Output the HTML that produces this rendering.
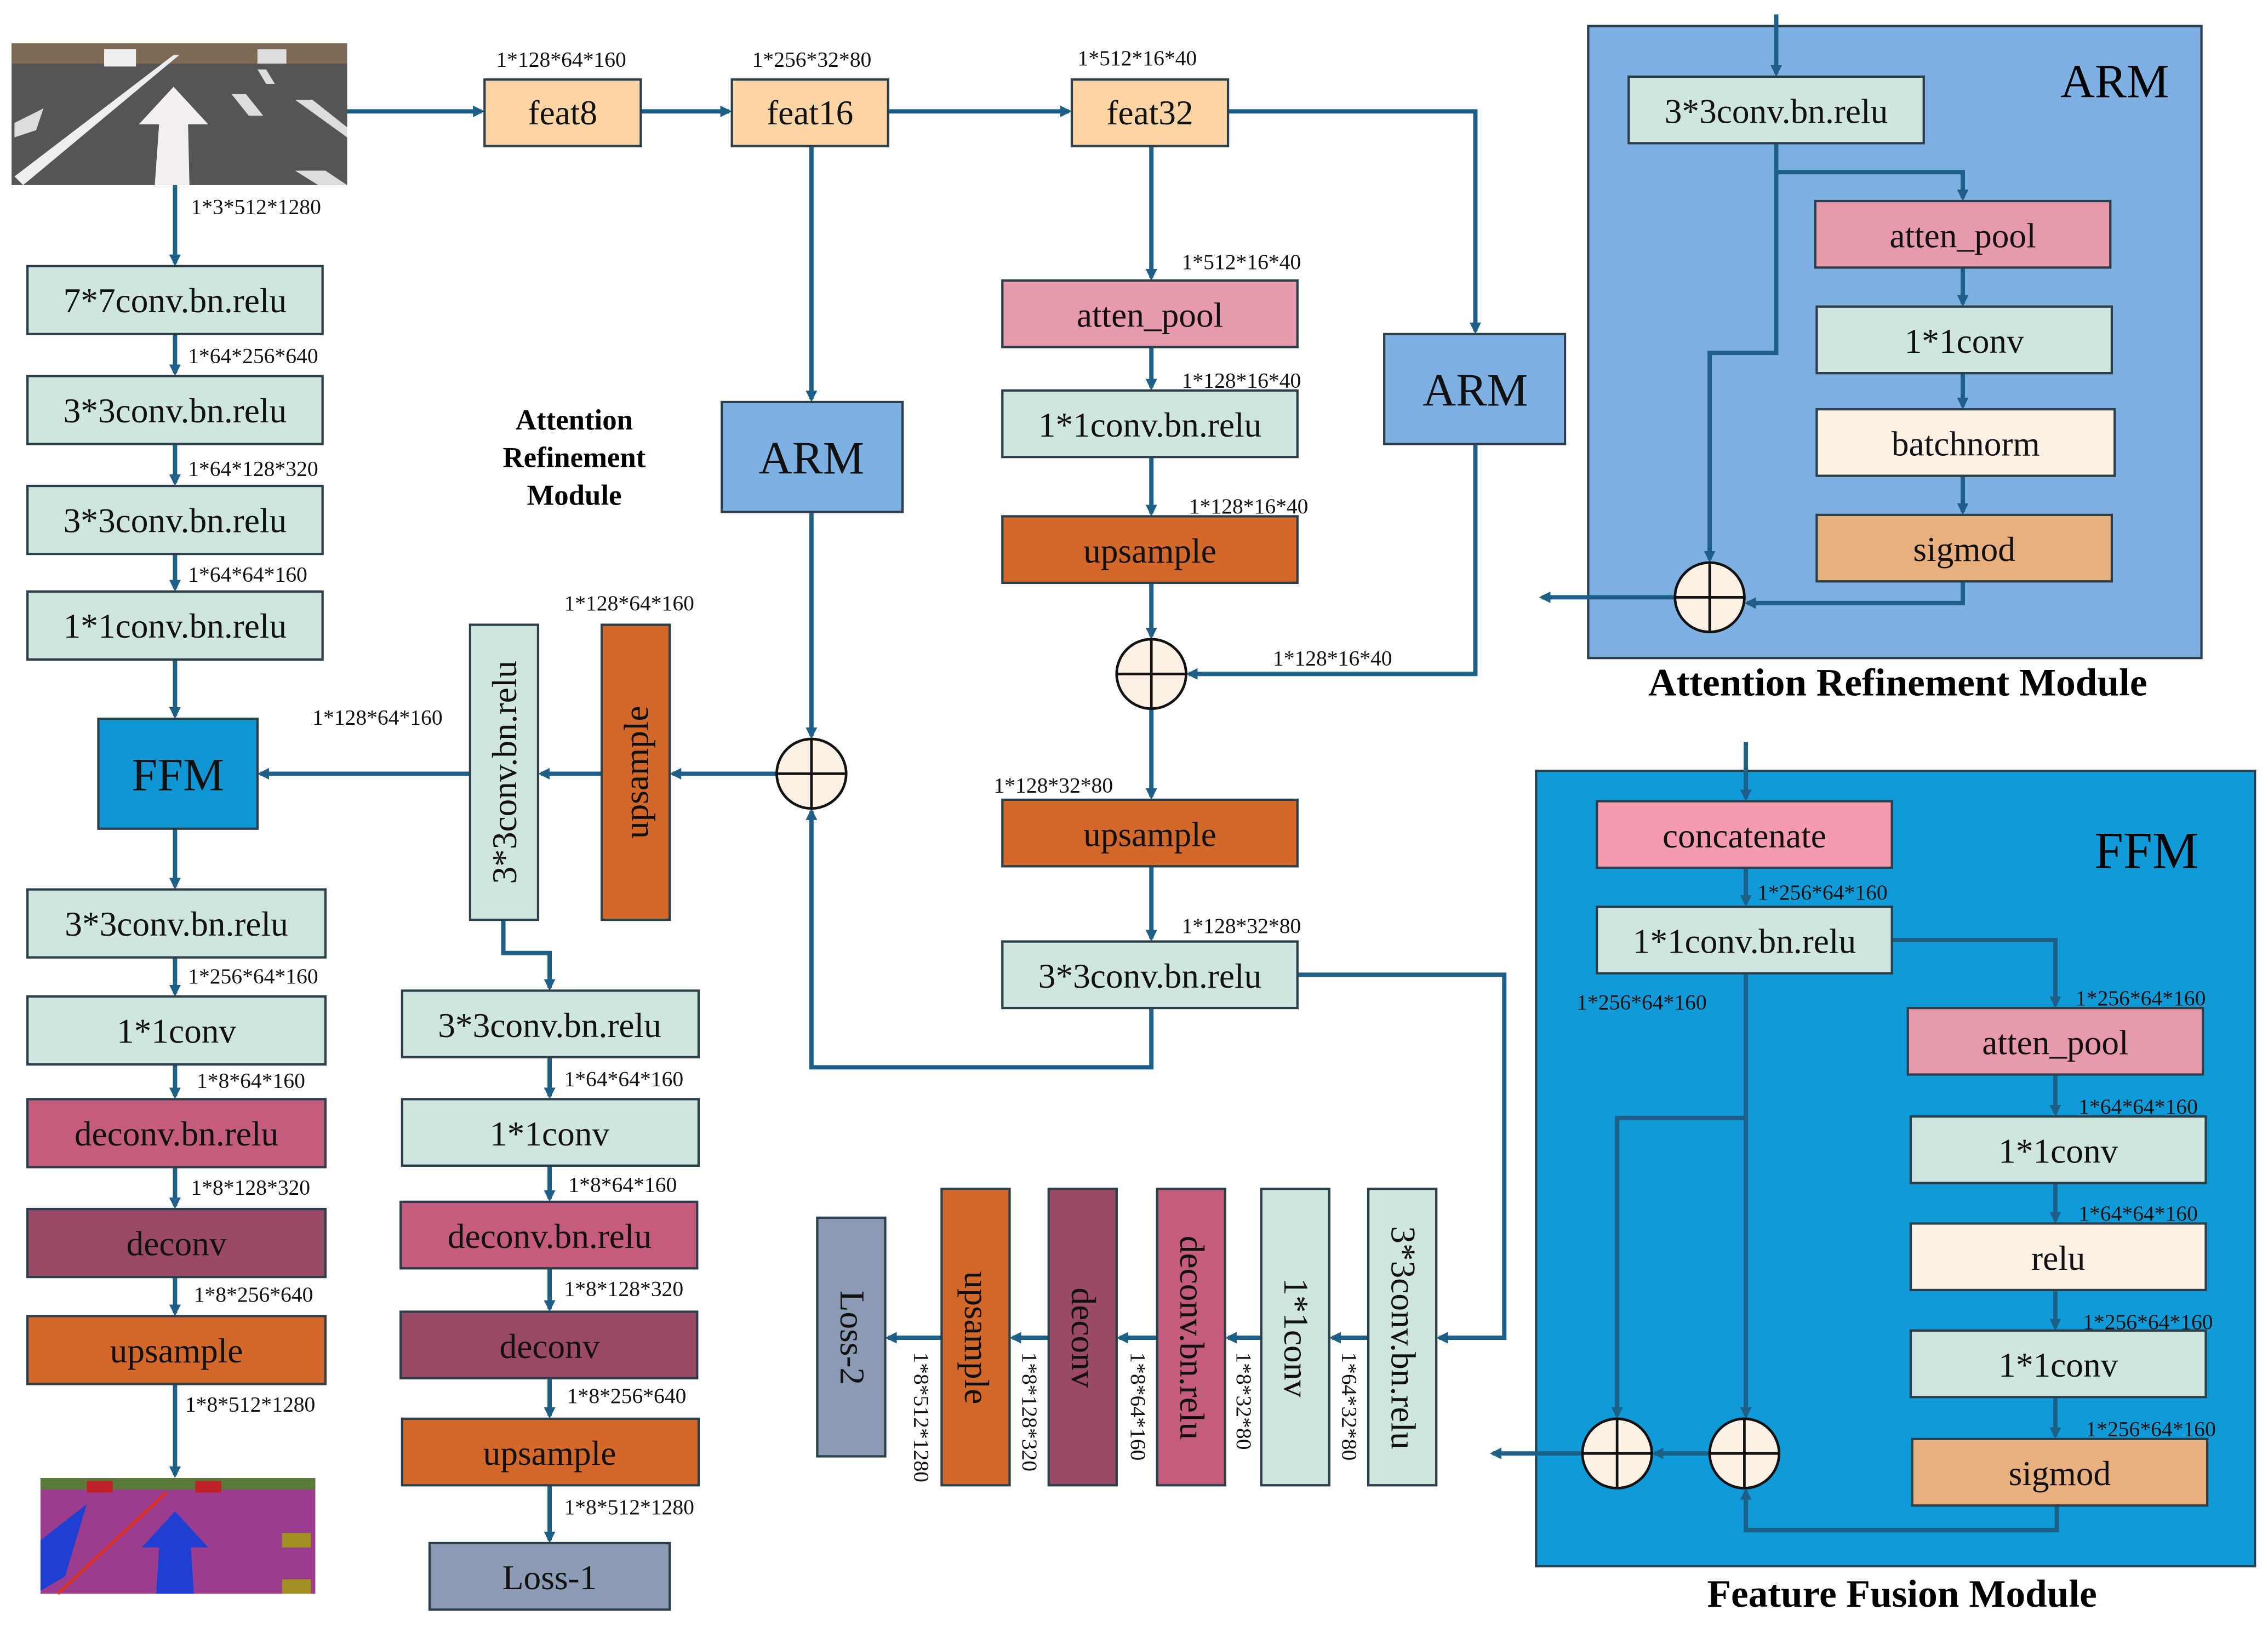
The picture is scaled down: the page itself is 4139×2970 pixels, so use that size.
<!DOCTYPE html>
<html><head><meta charset="utf-8"><style>
html,body{margin:0;padding:0;background:#fff;}
svg{display:block;font-family:"Liberation Serif","DejaVu Serif",serif;}
svg text{font-family:"Liberation Serif","DejaVu Serif",serif;}
.b{stroke:#2b3e4a;stroke-width:1.6;}
.t{font-size:24px;text-anchor:middle;dominant-baseline:central;fill:#111;}
.l{font-size:15px;fill:#111;}
.w{stroke:#1d5f86;stroke-width:3;fill:none;}
</style></head><body>
<svg width="4139" height="2970" viewBox="0 0 1568 1125" preserveAspectRatio="none" xmlns="http://www.w3.org/2000/svg" font-family="Liberation Serif, DejaVu Serif, serif">
<defs>
<marker id="a" markerWidth="8" markerHeight="8" refX="6" refY="4" orient="auto" markerUnits="userSpaceOnUse"><path d="M0,0 L8,4 L0,8 Z" fill="#1d5f86"/></marker>
<g id="c"><circle r="24" fill="#fdf0e4" stroke="#111" stroke-width="1.8"/><path d="M-24,0H24M0,-24V24" stroke="#111" stroke-width="1.8"/></g>
</defs>

<!-- road image -->
<rect x="8" y="30" width="232" height="98" fill="#555"/>
<rect x="8" y="30" width="232" height="14" fill="#7d6a55"/>
<path d="M10,122 L120,38 L124,38 L16,128Z" fill="#eee"/>
<path d="M107,128 L110,86 L96,86 L120,60 L144,86 L130,86 L131,128Z" fill="#f5f0f0"/>
<path d="M160,65 L170,65 L182,80 L172,80Z M178,48 L184,48 L190,58 L184,58Z M204,69 L216,69 L240,88 L240,95Z M204,118 L225,118 L240,128 L220,128Z M10,85 L30,75 L25,90 L10,95Z" fill="#ddd"/>
<rect x="72" y="34" width="22" height="12" fill="#eee"/><rect x="178" y="34" width="20" height="10" fill="#ddd"/>

<!-- output image -->
<rect x="28" y="1022" width="190" height="80" fill="#9b3d8f"/>
<rect x="28" y="1022" width="190" height="8" fill="#5a7a3a"/>
<rect x="60" y="1024" width="18" height="8" fill="#c0202a"/><rect x="135" y="1024" width="18" height="8" fill="#c0202a"/>
<path d="M28,1065 L60,1040 L45,1090 L28,1100Z" fill="#1f3fd0"/>
<path d="M40,1102 L115,1032" stroke="#e03020" stroke-width="2"/>
<path d="M108,1102 L110,1070 L98,1070 L121,1045 L144,1070 L132,1070 L134,1102Z" fill="#1f3fd0"/>
<rect x="195" y="1060" width="20" height="10" fill="#a09020"/><rect x="195" y="1092" width="20" height="10" fill="#a09020"/>

<!-- ARM panel -->
<rect x="1098" y="18" width="424" height="437" fill="#7fb0e2" class="b"/>
<text x="1462" y="56" style="font-size:33px;text-anchor:middle;dominant-baseline:central">ARM</text>
<text x="1312" y="472" style="font-size:27px;font-weight:bold;text-anchor:middle;dominant-baseline:central">Attention Refinement Module</text>
<!-- FFM panel -->
<rect x="1062" y="533" width="497" height="550" fill="#0f9bd7" class="b"/>
<text x="1484" y="588" style="font-size:36px;text-anchor:middle;dominant-baseline:central">FFM</text>
<text x="1315" y="1102" style="font-size:27px;font-weight:bold;text-anchor:middle;dominant-baseline:central">Feature Fusion Module</text>

<!-- wires -->
<g class="w">
<path d="M240,77H333" marker-end="url(#a)"/>
<path d="M443,77H504" marker-end="url(#a)"/>
<path d="M614,77H739" marker-end="url(#a)"/>
<path d="M121,128V182" marker-end="url(#a)"/>
<path d="M121,231V258" marker-end="url(#a)"/>
<path d="M121,307V334" marker-end="url(#a)"/>
<path d="M121,383V407" marker-end="url(#a)"/>
<path d="M121,456V495" marker-end="url(#a)"/>
<path d="M121,573V613" marker-end="url(#a)"/>
<path d="M121,662V687" marker-end="url(#a)"/>
<path d="M121,736V758" marker-end="url(#a)"/>
<path d="M121,807V834" marker-end="url(#a)"/>
<path d="M121,883V908" marker-end="url(#a)"/>
<path d="M121,957V1020" marker-end="url(#a)"/>
<path d="M561,101V276" marker-end="url(#a)"/>
<path d="M561,354V509" marker-end="url(#a)"/>
<path d="M849,77H1020V229" marker-end="url(#a)"/>
<path d="M1020,307V466H822" marker-end="url(#a)"/>
<path d="M796,101V192" marker-end="url(#a)"/>
<path d="M796,240V268" marker-end="url(#a)"/>
<path d="M796,316V355" marker-end="url(#a)"/>
<path d="M796,403V440" marker-end="url(#a)"/>
<path d="M796,490V551" marker-end="url(#a)"/>
<path d="M796,599V649" marker-end="url(#a)"/>
<path d="M796,697V738H561V561" marker-end="url(#a)"/>
<path d="M897,674H1040V925H995" marker-end="url(#a)"/>
<path d="M537,535H465" marker-end="url(#a)"/>
<path d="M416,535H374" marker-end="url(#a)"/>
<path d="M325,535H180" marker-end="url(#a)"/>
<path d="M348,636V659H380V683" marker-end="url(#a)"/>
<path d="M380,731V758" marker-end="url(#a)"/>
<path d="M380,806V829" marker-end="url(#a)"/>
<path d="M380,877V905" marker-end="url(#a)"/>
<path d="M380,953V979" marker-end="url(#a)"/>
<path d="M380,1027V1065" marker-end="url(#a)"/>
<path d="M946,925H921" marker-end="url(#a)"/>
<path d="M872,925H849" marker-end="url(#a)"/>
<path d="M800,925H774" marker-end="url(#a)"/>
<path d="M725,925H700" marker-end="url(#a)"/>
<path d="M651,925H614" marker-end="url(#a)"/>
<path d="M1228,10V51" marker-end="url(#a)"/>
<path d="M1228,99V119H1357V137" marker-end="url(#a)"/>
<path d="M1228,119V244H1182V387" marker-end="url(#a)"/>
<path d="M1357,185V210" marker-end="url(#a)"/>
<path d="M1357,258V281" marker-end="url(#a)"/>
<path d="M1357,329V354" marker-end="url(#a)"/>
<path d="M1357,402V417H1208" marker-end="url(#a)"/>
<path d="M1158,413H1066" marker-end="url(#a)"/>
<path d="M1207,513V552" marker-end="url(#a)"/>
<path d="M1207,600V625" marker-end="url(#a)"/>
<path d="M1308,650H1421V695" marker-end="url(#a)"/>
<path d="M1207,673V979" marker-end="url(#a)"/>
<path d="M1207,773H1118V979" marker-end="url(#a)"/>
<path d="M1421,743V770" marker-end="url(#a)"/>
<path d="M1421,818V844" marker-end="url(#a)"/>
<path d="M1421,892V918" marker-end="url(#a)"/>
<path d="M1421,966V993" marker-end="url(#a)"/>
<path d="M1422,1041V1058H1207V1031" marker-end="url(#a)"/>
<path d="M1182,1005H1144" marker-end="url(#a)"/>
<path d="M1094,1005H1032" marker-end="url(#a)"/>
</g>

<!-- boxes -->
<g class="b">
<rect x="335" y="55" width="108" height="46" fill="#fdd5a5"/>
<rect x="506" y="55" width="108" height="46" fill="#fdd5a5"/>
<rect x="741" y="55" width="108" height="46" fill="#fdd5a5"/>
<rect x="19" y="184" width="204" height="47" fill="#cfe6df"/>
<rect x="19" y="260" width="204" height="47" fill="#cfe6df"/>
<rect x="19" y="336" width="204" height="47" fill="#cfe6df"/>
<rect x="19" y="409" width="204" height="47" fill="#cfe6df"/>
<rect x="68" y="497" width="110" height="76" fill="#1097d3"/>
<rect x="19" y="615" width="206" height="47" fill="#cfe6df"/>
<rect x="19" y="689" width="206" height="47" fill="#cfe6df"/>
<rect x="19" y="760" width="206" height="47" fill="#c45c7c"/>
<rect x="19" y="836" width="206" height="47" fill="#9a4a66"/>
<rect x="19" y="910" width="206" height="47" fill="#d2692b"/>
<rect x="499" y="278" width="125" height="76" fill="#7fb0e2"/>
<rect x="957" y="231" width="125" height="76" fill="#7fb0e2"/>
<rect x="693" y="194" width="204" height="46" fill="#e69aab"/>
<rect x="693" y="270" width="204" height="46" fill="#cfe6df"/>
<rect x="693" y="357" width="204" height="46" fill="#d2692b"/>
<rect x="693" y="553" width="204" height="46" fill="#d2692b"/>
<rect x="693" y="651" width="204" height="46" fill="#cfe6df"/>
<rect x="416" y="432" width="47" height="204" fill="#d2692b"/>
<rect x="325" y="432" width="47" height="204" fill="#cfe6df"/>
<rect x="278" y="685" width="205" height="46" fill="#cfe6df"/>
<rect x="278" y="760" width="205" height="46" fill="#cfe6df"/>
<rect x="277" y="831" width="205" height="46" fill="#c45c7c"/>
<rect x="277" y="907" width="205" height="46" fill="#9a4a66"/>
<rect x="278" y="981" width="205" height="46" fill="#d2692b"/>
<rect x="297" y="1067" width="166" height="46" fill="#8a9bb3"/>
<rect x="946" y="822" width="47" height="205" fill="#cfe6df"/>
<rect x="872" y="822" width="47" height="205" fill="#cfe6df"/>
<rect x="800" y="822" width="47" height="205" fill="#c45c7c"/>
<rect x="725" y="822" width="47" height="205" fill="#9a4a66"/>
<rect x="651" y="822" width="47" height="205" fill="#d2692b"/>
<rect x="565" y="842" width="47" height="165" fill="#8a9bb3"/>
<rect x="1126" y="53" width="204" height="46" fill="#cfe6df"/>
<rect x="1255" y="139" width="204" height="46" fill="#e69aab"/>
<rect x="1256" y="212" width="204" height="46" fill="#cfe6df"/>
<rect x="1256" y="283" width="206" height="46" fill="#fdf0e4"/>
<rect x="1256" y="356" width="204" height="46" fill="#e8b07e"/>
<rect x="1104" y="554" width="204" height="46" fill="#f59bb0"/>
<rect x="1104" y="627" width="204" height="46" fill="#cfe6df"/>
<rect x="1319" y="697" width="204" height="46" fill="#e69aab"/>
<rect x="1321" y="772" width="204" height="46" fill="#cfe6df"/>
<rect x="1321" y="846" width="204" height="46" fill="#fdf0e4"/>
<rect x="1321" y="920" width="204" height="46" fill="#cfe6df"/>
<rect x="1322" y="995" width="204" height="46" fill="#e8b07e"/>
</g>

<use href="#c" x="561" y="535"/><use href="#c" x="796" y="466"/>
<use href="#c" x="1182" y="413"/><use href="#c" x="1206" y="1005"/><use href="#c" x="1118" y="1005"/>

<g class="t">
<text x="389" y="78">feat8</text><text x="560" y="78">feat16</text><text x="795" y="78">feat32</text>
<text x="121" y="208">7*7conv.bn.relu</text><text x="121" y="284">3*3conv.bn.relu</text>
<text x="121" y="360">3*3conv.bn.relu</text><text x="121" y="433">1*1conv.bn.relu</text>
<text x="123" y="536" style="font-size:32px">FFM</text>
<text x="122" y="639">3*3conv.bn.relu</text><text x="122" y="713">1*1conv</text>
<text x="122" y="784">deconv.bn.relu</text><text x="122" y="860">deconv</text><text x="122" y="934">upsample</text>
<text x="561" y="317" style="font-size:32px">ARM</text><text x="1020" y="270" style="font-size:32px">ARM</text>
<text x="795" y="218">atten_pool</text><text x="795" y="294">1*1conv.bn.relu</text>
<text x="795" y="381">upsample</text><text x="795" y="577">upsample</text><text x="795" y="675">3*3conv.bn.relu</text>
<text transform="translate(440,534) rotate(-90)">upsample</text>
<text transform="translate(349,534) rotate(-90)">3*3conv.bn.relu</text>
<text x="380" y="709">3*3conv.bn.relu</text><text x="380" y="784">1*1conv</text>
<text x="380" y="855">deconv.bn.relu</text><text x="380" y="931">deconv</text>
<text x="380" y="1005">upsample</text><text x="380" y="1091">Loss-1</text>
<text transform="translate(970,925) rotate(90)">3*3conv.bn.relu</text>
<text transform="translate(896,925) rotate(90)">1*1conv</text>
<text transform="translate(824,925) rotate(90)">deconv.bn.relu</text>
<text transform="translate(749,925) rotate(90)">deconv</text>
<text transform="translate(675,925) rotate(90)">upsample</text>
<text transform="translate(589,925) rotate(90)">Loss-2</text>
<text x="1228" y="77">3*3conv.bn.relu</text><text x="1357" y="163">atten_pool</text>
<text x="1358" y="236">1*1conv</text><text x="1359" y="307">batchnorm</text><text x="1358" y="380">sigmod</text>
<text x="1206" y="578">concatenate</text><text x="1206" y="651">1*1conv.bn.relu</text>
<text x="1421" y="721">atten_pool</text><text x="1423" y="796">1*1conv</text><text x="1423" y="870">relu</text>
<text x="1423" y="944">1*1conv</text><text x="1424" y="1019">sigmod</text>
</g>
<g style="font-size:20px;font-weight:bold;text-anchor:middle">
<text x="397" y="297">Attention</text><text x="397" y="323">Refinement</text><text x="397" y="349">Module</text>
</g>

<g class="l">
<text x="343" y="46">1*128*64*160</text><text x="520" y="46">1*256*32*80</text><text x="745" y="45">1*512*16*40</text>
<text x="132" y="148">1*3*512*1280</text><text x="130" y="251">1*64*256*640</text><text x="130" y="329">1*64*128*320</text>
<text x="130" y="402">1*64*64*160</text><text x="130" y="680">1*256*64*160</text><text x="136" y="752">1*8*64*160</text>
<text x="132" y="826">1*8*128*320</text><text x="134" y="900">1*8*256*640</text><text x="128" y="976">1*8*512*1280</text>
<text x="817" y="186">1*512*16*40</text><text x="817" y="268">1*128*16*40</text><text x="822" y="355">1*128*16*40</text>
<text x="880" y="460">1*128*16*40</text><text x="687" y="548">1*128*32*80</text><text x="817" y="645">1*128*32*80</text>
<text x="390" y="422">1*128*64*160</text><text x="216" y="501">1*128*64*160</text>
<text x="390" y="751">1*64*64*160</text><text x="393" y="824">1*8*64*160</text><text x="390" y="896">1*8*128*320</text>
<text x="392" y="970">1*8*256*640</text><text x="390" y="1047">1*8*512*1280</text>
<text x="1215" y="622">1*256*64*160</text><text x="1435" y="695">1*256*64*160</text><text x="1090" y="698">1*256*64*160</text>
<text x="1437" y="770">1*64*64*160</text><text x="1437" y="844">1*64*64*160</text>
<text x="1440" y="919">1*256*64*160</text><text x="1442" y="993">1*256*64*160</text>
<text transform="translate(928,935) rotate(90)">1*64*32*80</text>
<text transform="translate(855,935) rotate(90)">1*8*32*80</text>
<text transform="translate(782,935) rotate(90)">1*8*64*160</text>
<text transform="translate(707,935) rotate(90)">1*8*128*320</text>
<text transform="translate(632,935) rotate(90)">1*8*512*1280</text>
</g>
</svg>
</body></html>
